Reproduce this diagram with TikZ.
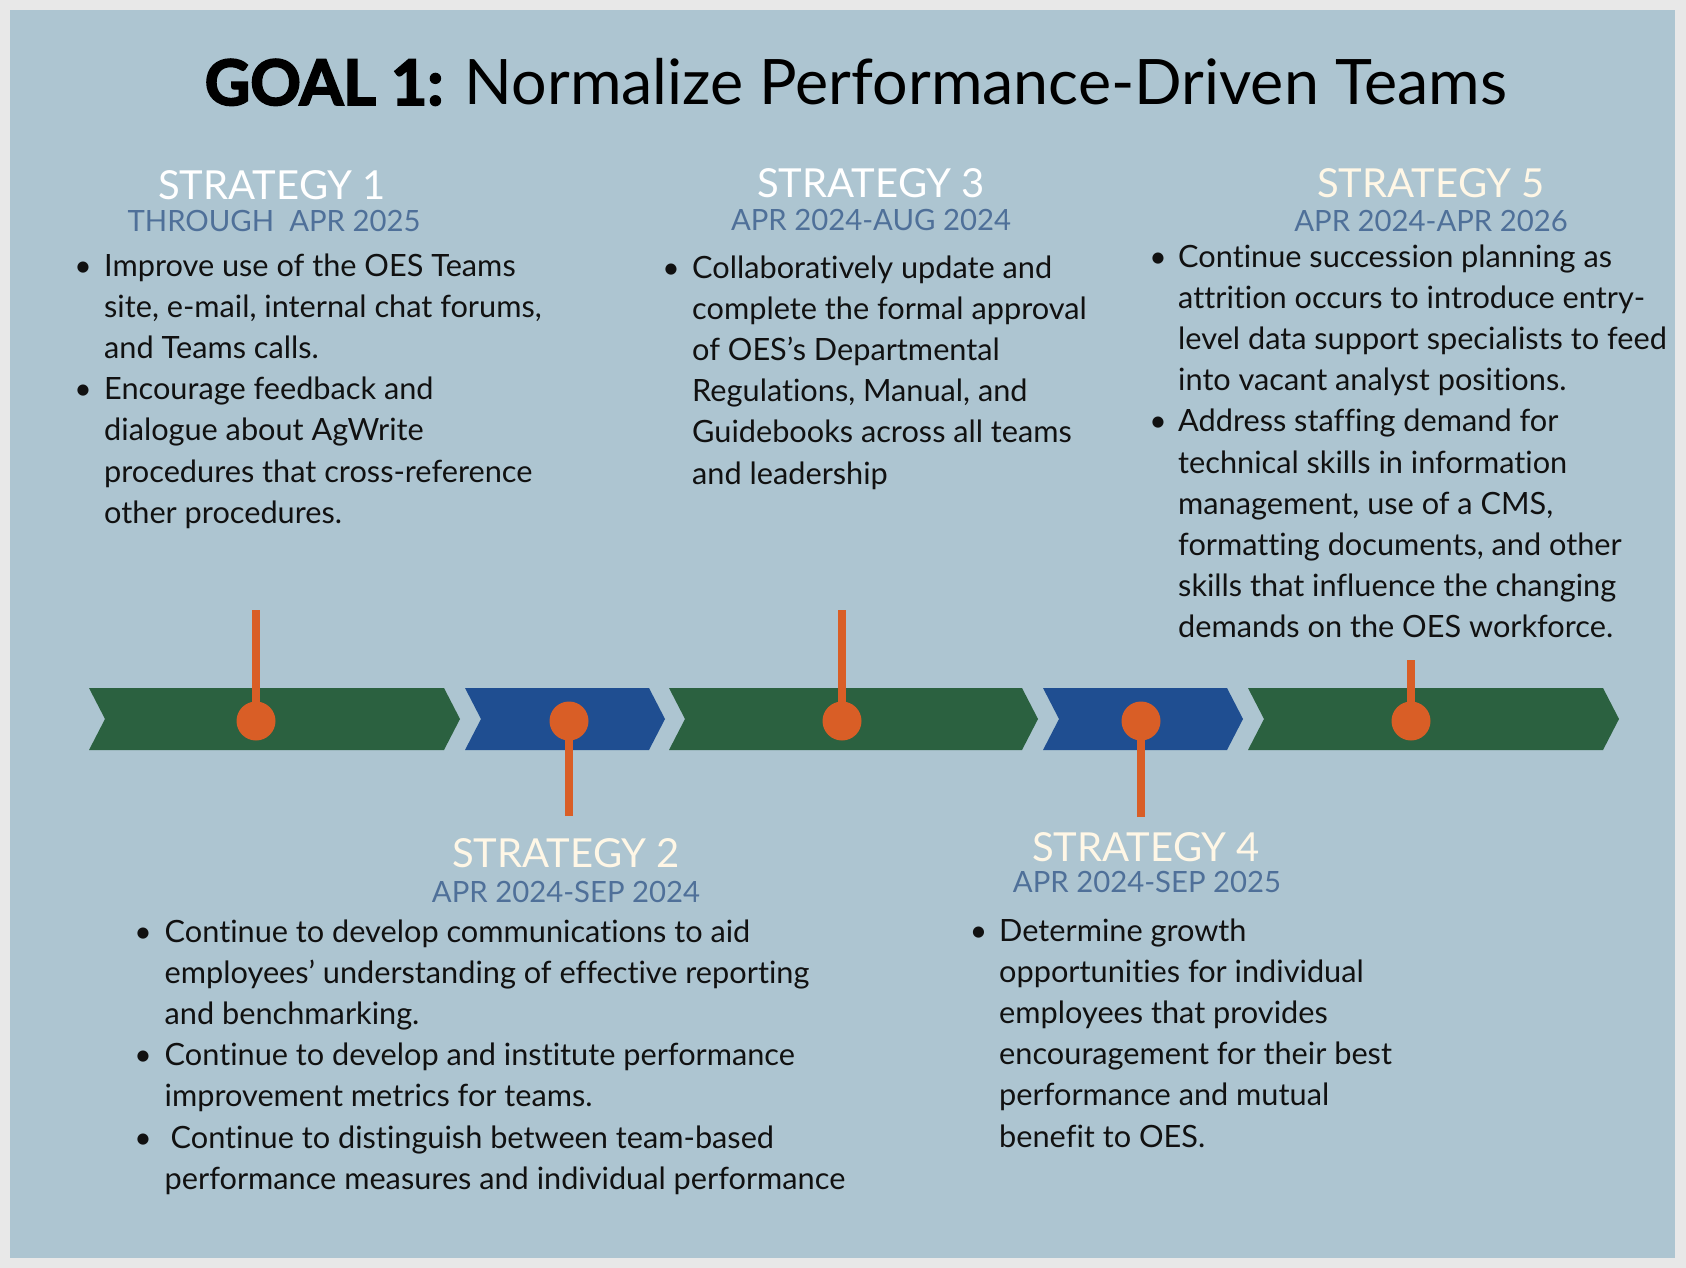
\documentclass[tikz,border=0pt]{standalone}
\usepackage{fontspec}
\setmainfont{Lato}[Ligatures={NoCommon}]
\newfontfamily\heavyfont{Lato}[Ligatures={NoCommon},BoldFeatures={FakeBold=3}]
\definecolor{outergray}{HTML}{E8E8E8}
\definecolor{panel}{HTML}{ADC5D1}
\definecolor{chgreen}{HTML}{2B6140}
\definecolor{chblue}{HTML}{1F4E91}
\definecolor{pinorange}{HTML}{D95E26}
\definecolor{datecol}{HTML}{4F7099}
\definecolor{cream}{HTML}{FFF7E6}
\definecolor{bodytext}{HTML}{111111}
\newcommand\chev[4]{% name, left, tip, colour
  \fill[#4] (#2,688) -- (#3-16,688) -- (#3,719) -- (#3-16,750) -- (#2,750) -- (#2+16,719) -- cycle;
  \coordinate (#1) at ({(#2+#3)/2},719);}
\newcommand\blk[4]{% name, x, first baseline, lines
  \foreach \lineText [count=\i from 0] in {#4} {\node[body] (#1-\i) at (#2,#3+41.2*\i) {\lineText};}}
\newcommand\bul[3]{\node[bulstyle] (#1) at (#2,#3) {•};}
\begin{document}
\begin{tikzpicture}[x=1pt,y=-1pt,
  body/.style={anchor=base west,inner sep=0pt,text=bodytext,font=\fontsize{30.7}{36}\selectfont},
  bulstyle/.style={anchor=base,inner sep=0pt,text=bodytext,font=\fontsize{30}{36}\selectfont},
  hdr/.style={anchor=base,inner sep=0pt,font=\fontsize{40}{48}\selectfont},
  datest/.style={anchor=base,inner sep=0pt,text=datecol,font=\fontsize{29.3}{34}\selectfont},
  pinst/.style={circle,fill=pinorange,inner sep=0pt,minimum size=39pt},
  stem/.style={draw=pinorange,line width=8pt,line cap=butt}]
\useasboundingbox (0,0) rectangle (1686,1268);
\fill[outergray] (0,0) rectangle (1686,1268);
\fill[panel] (10,10) rectangle (1675,1258);
% title
\node[anchor=base,inner sep=0pt,font=\fontsize{62.7}{70}\selectfont] (title) at (856,105)
  {{\heavyfont\bfseries GOAL 1:} Normalize Performance-Driven Teams};
% chevrons
\chev{c1}{89}{460}{chgreen}
\chev{c2}{465}{665}{chblue}
\chev{c3}{669}{1038}{chgreen}
\chev{c4}{1043}{1243}{chblue}
\chev{c5}{1248}{1619}{chgreen}
% pins
\coordinate (k1) at (256,721); \coordinate (e1) at (256,610);
\coordinate (k2) at (569,721); \coordinate (e2) at (569,816);
\coordinate (k3) at (842,721); \coordinate (e3) at (842,610);
\coordinate (k4) at (1141,721); \coordinate (e4) at (1141,817);
\coordinate (k5) at (1411,721); \coordinate (e5) at (1411,660);
\foreach \n in {1,...,5} {\draw[stem] (e\n) -- (k\n); \node[pinst] (p\n) at (k\n) {};}
% headers
\node[hdr,text=white] (h1) at (272,200) {STRATEGY 1};
\node[datest] (d1) at (274,232) {THROUGH\ \ APR 2025};
\node[hdr,text=cream] (h2) at (566,867) {STRATEGY 2};
\node[datest] (d2) at (566,902) {APR 2024-SEP 2024};
\node[hdr,text=white] (h3) at (871,198) {STRATEGY 3};
\node[datest] (d3) at (871,230) {APR 2024-AUG 2024};
\node[hdr,text=cream] (h4) at (1146,861) {STRATEGY 4};
\node[datest] (d4) at (1147,892) {APR 2024-SEP 2025};
\node[hdr,text=cream] (h5) at (1431,198) {STRATEGY 5};
\node[datest] (d5) at (1431,232) {APR 2024-APR 2026};
% strategy 1
\blk{s1}{104}{276}{Improve use of the OES Teams,{site, e-mail, internal chat forums,},and Teams calls.,Encourage feedback and,dialogue about AgWrite,procedures that cross-reference,other procedures.}
\bul{b1a}{83}{276} \bul{b1b}{83}{399.6}
% strategy 3
\blk{s3}{692}{278}{Collaboratively update and,complete the formal approval,of OES’s Departmental,{Regulations, Manual, and},Guidebooks across all teams,and leadership}
\bul{b3a}{671}{278}
% strategy 5
\blk{s5}{1178}{267}{Continue succession planning as,attrition occurs to introduce entry-,level data support specialists to feed,into vacant analyst positions.,Address staffing demand for,technical skills in information,{management, use of a CMS,},{formatting documents, and other},skills that influence the changing,demands on the OES workforce.}
\bul{b5a}{1158}{267} \bul{b5b}{1158}{431.8}
% strategy 2
\blk{s2}{164.5}{942}{Continue to develop communications to aid,employees’ understanding of effective reporting,and benchmarking.,Continue to develop and institute performance,improvement metrics for teams.,\hspace*{6pt}Continue to distinguish between team-based,performance measures and individual performance}
\bul{b2a}{143}{942} \bul{b2b}{143}{1065.6} \bul{b2c}{143}{1148}
% strategy 4
\blk{s4}{999}{941}{Determine growth,opportunities for individual,employees that provides,encouragement for their best,performance and mutual,benefit to OES.}
\bul{b4a}{978.5}{941}
\end{tikzpicture}
\end{document}
